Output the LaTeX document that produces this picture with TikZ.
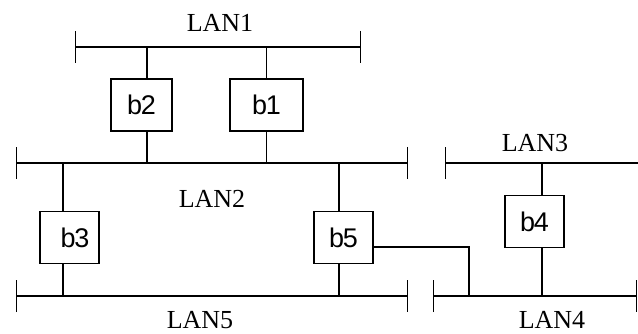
\documentclass[tikz,border=0pt]{standalone}
\usepackage{fontspec}
\setmainfont{Liberation Serif}
\newfontfamily\bridgefont[LetterSpace=-4]{Liberation Sans}
\usetikzlibrary{arrows.meta}
\begin{document}
\begin{tikzpicture}[x=1pt,y=-1pt,line width=1.2pt,
  bus/.style={{Bar[width=32pt,line width=1.2pt]}-{Bar[width=32pt,line width=1.2pt]}},
  openbus/.style={{Bar[width=32pt,line width=1.2pt]}-},
  bridge/.style={draw,rectangle,inner sep=0pt,minimum height=52pt,
    font=\bridgefont\fontsize{27}{30}\selectfont},
  lanlabel/.style={inner sep=0pt,font=\fontsize{26}{30}\selectfont}]
\useasboundingbox (0,0) rectangle (638,334);

% LAN segments (bus lines with end bars)
\coordinate (lan1w) at (75,47);   \coordinate (lan1e) at (361,47);
\coordinate (lan2w) at (16,163);  \coordinate (lan2e) at (408,163);
\coordinate (lan3w) at (445,163); \coordinate (lan3e) at (638,163);
\coordinate (lan5w) at (16,296);  \coordinate (lan5e) at (408,296);
\coordinate (lan4w) at (433,296); \coordinate (lan4e) at (637,296);
\draw[bus] (lan1w) -- (lan1e);
\draw[bus] (lan2w) -- (lan2e);
\draw[openbus] (lan3w) -- (lan3e);
\draw[bus] (lan5w) -- (lan5e);
\draw[bus] (lan4w) -- (lan4e);

% LAN names
\node[lanlabel] (l1) at (220,23) {LAN1};
\node[lanlabel] (l2) at (212,199) {LAN2};
\node[lanlabel] (l3) at (535,143) {LAN3};
\node[lanlabel] (l5) at (200,320) {LAN5};
\node[lanlabel] (l4) at (552,320) {LAN4};

% Bridges
\node[bridge,minimum width=61pt] (b2) at (141.5,105) {b2};
\node[bridge,minimum width=73pt] (b1) at (266.5,105) {b1\hspace{20pt}};
\node[bridge,minimum width=59pt] (b3) at (69.5,237.5) {\hspace{11pt}b3};
\node[bridge,minimum width=59pt] (b5) at (343.5,237.5) {b5\hspace{4pt}};
\node[bridge,minimum width=59pt] (b4) at (534.5,221.5) {b4\hspace{5pt}};

% Bridge ports
\draw ([xshift=5.5pt]b2.north) -- ([xshift=5.5pt]b2.north |- lan1w);
\draw ([xshift=5.5pt]b2.south) -- ([xshift=5.5pt]b2.south |- lan2w);
\draw (b1.north) -- (b1.north |- lan1w);
\draw (b1.south) -- (b1.south |- lan2w);
\draw ([xshift=-6.5pt]b3.north) -- ([xshift=-6.5pt]b3.north |- lan2w);
\draw ([xshift=-6.5pt]b3.south) -- ([xshift=-6.5pt]b3.south |- lan5w);
\draw ([xshift=-4.5pt]b5.north) -- ([xshift=-4.5pt]b5.north |- lan2w);
\draw ([xshift=-4.5pt]b5.south) -- ([xshift=-4.5pt]b5.south |- lan5w);
\draw ([xshift=7.5pt]b4.north) -- ([xshift=7.5pt]b4.north |- lan3w);
\draw ([xshift=7.5pt]b4.south) -- ([xshift=7.5pt]b4.south |- lan4w);
\coordinate (tap4) at (469,296);
\draw ([yshift=-9.5pt]b5.east) -| (tap4);
\end{tikzpicture}
\end{document}
